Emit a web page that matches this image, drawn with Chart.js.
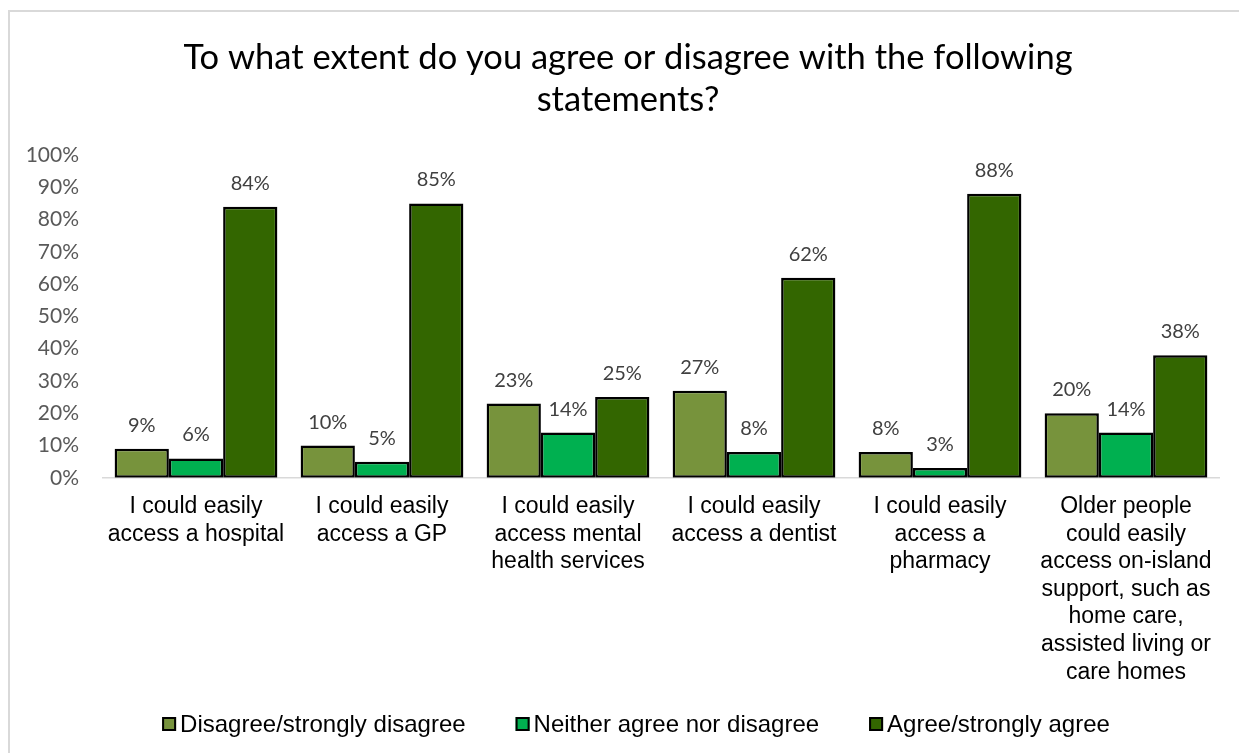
<!DOCTYPE html>
<html>
<head>
<meta charset="utf-8">
<script src="https://cdn.jsdelivr.net/npm/chart.js@4/dist/chart.umd.min.js"></script>
<style>
  html, body { margin: 0; padding: 0; background: #fff; }
  #wrap { position: relative; width: 1239px; height: 753px; overflow: hidden; }
  #frame { position: absolute; left: 8px; top: 10px; width: 1300px; height: 800px;
           border-left: 2px solid #d9d9d9; border-top: 2px solid #d9d9d9; }
  canvas { position: absolute; left: 0; top: 0; }
</style>
</head>
<body>
<div id="wrap">
  <div id="frame"></div>
  <canvas id="chart" width="1239" height="753"></canvas>
</div>
<script>
// Survey statements (x axis categories, wrapped as they appear under the axis)
const statements = [
    ['I could easily', 'access a hospital'],
    ['I could easily', 'access a GP'],
    ['I could easily', 'access mental', 'health services'],
    ['I could easily', 'access a dentist'],
    ['I could easily', 'access a', 'pharmacy'],
    ['Older people', 'could easily', 'access on-island', 'support, such as', 'home care,', 'assisted living or', 'care homes']
];

// Response shares, percent
const disagreeValues = [9, 10, 23, 27, 8, 20];
const neitherValues = [6, 5, 14, 8, 3, 14];
const agreeValues = [84, 85, 25, 62, 88, 38];

const seriesNames = ['Disagree/strongly disagree', 'Neither agree nor disagree', 'Agree/strongly agree'];
const seriesColors = ['#77933c', '#00b050', '#336600'];

const titleLines = ['To what extent do you agree or disagree with the following', 'statements?'];

const LABEL_FONT = 'Liberation Sans, Arial, sans-serif';
const NUM_FONT = 'Lato, Carlito, sans-serif';

// Two-line heading, centred over the whole frame rather than the padded box
const heading = {
    id: 'heading',
    afterDraw(chart) {
        const ctx = chart.ctx;
        ctx.save();
        ctx.font = '34.5px ' + NUM_FONT;
        ctx.fillStyle = '#000';
        ctx.textAlign = 'center';
        ctx.textBaseline = 'middle';
        titleLines.forEach((line, i) => ctx.fillText(line, 628, 58 + i * 42));
        ctx.restore();
    }
};

// Percent labels above each bar
const valueLabels = {
    id: 'valueLabels',
    afterDatasetsDraw(chart) {
        const ctx = chart.ctx;
        ctx.save();
        ctx.font = '20px ' + NUM_FONT;
        ctx.fillStyle = '#404040';
        ctx.textAlign = 'center';
        ctx.textBaseline = 'alphabetic';
        chart.data.datasets.forEach((ds, di) => {
            const meta = chart.getDatasetMeta(di);
            meta.data.forEach((bar, i) => {
                ctx.fillText(ds.data[i] + '%', bar.x, bar.y - 17);
            });
        });
        ctx.restore();
    }
};

// Legend row drawn along the bottom edge
const bottomLegend = {
    id: 'bottomLegend',
    afterDraw(chart) {
        const ctx = chart.ctx;
        const box = 14, textGap = 4, itemGap = 50;
        const y = 724, centre = 636;
        ctx.save();
        ctx.font = '24px ' + LABEL_FONT;
        const widths = chart.data.datasets.map(ds => box + textGap + ctx.measureText(ds.label).width);
        const total = widths.reduce((a, b) => a + b, 0) + itemGap * (widths.length - 1);
        let x = centre - total / 2;
        chart.data.datasets.forEach((ds, i) => {
            ctx.fillStyle = ds.backgroundColor;
            ctx.fillRect(x, y - box / 2, box, box);
            ctx.lineWidth = 2;
            ctx.strokeStyle = '#000';
            ctx.strokeRect(x + 1, y - box / 2 + 1, box - 2, box - 2);
            ctx.fillStyle = '#000';
            ctx.textBaseline = 'middle';
            ctx.textAlign = 'left';
            ctx.fillText(ds.label, x + box + textGap, y + 1);
            x += widths[i] + itemGap;
        });
        ctx.restore();
    }
};

const seriesValues = [disagreeValues, neitherValues, agreeValues];

new Chart(document.getElementById('chart'), {
    type: 'bar',
    data: {
        labels: statements,
        datasets: seriesValues.map((vals, i) => ({
            label: seriesNames[i],
            data: vals,
            backgroundColor: seriesColors[i],
            borderColor: '#000',
            borderWidth: 2.5,
            borderSkipped: false,
            categoryPercentage: 0.875,
            barPercentage: 1.0
        }))
    },
    options: {
        responsive: false,
        animation: false,
        devicePixelRatio: 1,
        layout: { padding: { left: 9, right: 20, top: 155, bottom: 60 } },
        plugins: {
            legend: { display: false },
            tooltip: { enabled: false },
            title: { display: false }
        },
        scales: {
            x: {
                grid: { display: false },
                border: { display: true, color: '#d9d9d9', width: 1.5 },
                ticks: {
                    color: '#000',
                    font: { family: LABEL_FONT, size: 23, lineHeight: 1.2 },
                    maxRotation: 0,
                    autoSkip: false,
                    padding: 7
                }
            },
            y: {
                min: 0,
                max: 100,
                grid: { display: false },
                border: { display: false },
                ticks: {
                    stepSize: 10,
                    color: '#595959',
                    font: { family: NUM_FONT, size: 21 },
                    padding: 16,
                    callback: v => v + '%'
                },
                afterFit(scale) { scale.width = 94; }
            }
        }
    },
    plugins: [heading, valueLabels, bottomLegend]
});
</script>
</body>
</html>
